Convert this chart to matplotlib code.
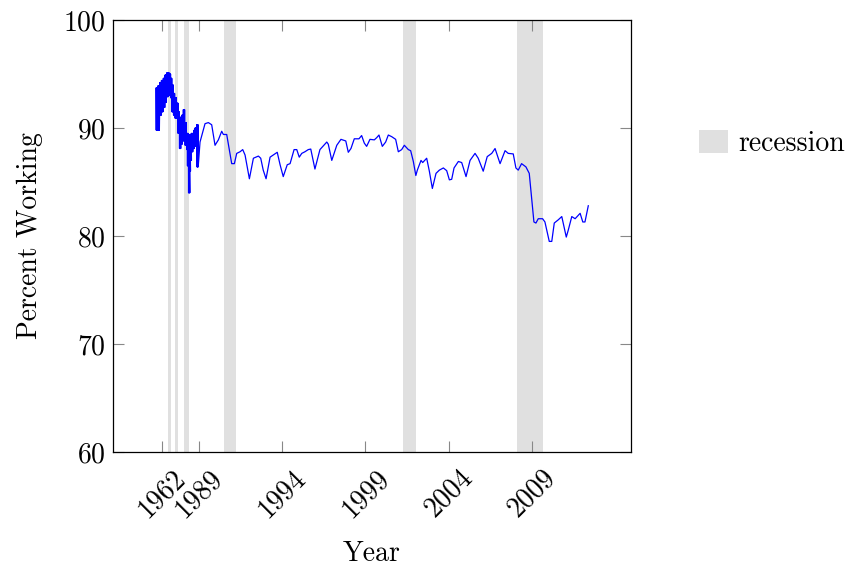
# Share of people working, with recession periods shaded
import numpy as np
import matplotlib
matplotlib.use("Agg")
import matplotlib.pyplot as plt

plt.rcParams["font.family"] = "serif"
plt.rcParams["font.serif"] = ["cmr10", "DejaVu Serif"]
plt.rcParams["axes.formatter.use_mathtext"] = True

# Early part of the series (compressed part of the axis): upper and lower swings
early_years = [1957.6, 1959.0, 1960.5, 1961.6, 1963.0, 1964.2, 1965.5, 1966.4, 1967.4, 1968.3,
               1969.2, 1970.4, 1971.6, 1972.9, 1973.8, 1974.8, 1975.8, 1976.8, 1977.8, 1979.0,
               1980.3, 1980.7, 1981.5, 1982.0, 1982.7, 1983.7, 1984.7, 1985.7, 1986.4, 1987.7]
early_high = [93.7, 93.9, 94.2, 94.4, 94.6, 94.9, 95.1, 95.1, 95.0, 94.6,
              94.0, 93.2, 92.8, 92.3, 91.5, 91.0, 90.6, 91.2, 91.7, 90.5,
              89.5, 88.9, 88.5, 89.0, 89.4, 89.5, 89.2, 89.8, 90.0, 90.3]
early_low = [89.8, 89.8, 91.2, 91.5, 91.9, 92.4, 92.9, 93.0, 93.2, 92.8,
             91.5, 91.2, 90.9, 91.0, 89.5, 88.1, 88.5, 89.1, 88.8, 88.4,
             88.0, 86.5, 84.0, 86.0, 87.0, 87.8, 88.1, 88.3, 88.6, 86.4]

# Later part of the series
late_years = [1989.09, 1989.39, 1989.59, 1989.79, 1989.99, 1990.19, 1990.39, 1990.49, 1990.69, 1990.99,
              1991.15, 1991.29, 1991.49, 1991.65, 1991.79, 1992.05, 1992.29, 1992.59, 1992.73, 1992.88,
              1993.05, 1993.29, 1993.72, 1993.89, 1994.08, 1994.32, 1994.49, 1994.73, 1994.89, 1995.04,
              1995.19, 1995.38, 1995.58, 1995.73, 1995.98, 1996.28, 1996.69, 1996.78, 1996.99, 1997.29,
              1997.54, 1997.83, 1997.98, 1998.14, 1998.34, 1998.62, 1998.78, 1998.94, 1999.08, 1999.28,
              1999.54, 1999.68, 1999.82, 2000.02, 2000.22, 2000.38, 2000.58, 2000.82, 2000.98, 2001.18,
              2001.34, 2001.58, 2001.72, 2001.88, 2002.03, 2002.12, 2002.34, 2002.44, 2002.68, 2002.84,
              2003.02, 2003.24, 2003.44, 2003.68, 2003.88, 2004.04, 2004.18, 2004.32, 2004.58, 2004.78,
              2005.04, 2005.28, 2005.58, 2005.77, 2006.07, 2006.31, 2006.58, 2006.78, 2007.08, 2007.38,
              2007.57, 2007.87, 2008.03, 2008.17, 2008.37, 2008.63, 2008.83, 2008.97, 2009.11, 2009.23,
              2009.37, 2009.63, 2009.77, 2010.03, 2010.18, 2010.33, 2010.57, 2010.78, 2011.05, 2011.17,
              2011.38, 2011.58, 2011.88, 2012.04, 2012.17, 2012.37]
late_values = [88.7, 90.4, 90.5, 90.3, 88.4, 88.9, 89.7, 89.4, 89.4, 86.7,
               86.7, 87.65, 87.8, 88.0, 87.5, 85.3, 87.2, 87.4, 87.2, 86.1,
               85.3, 87.3, 87.75, 86.6, 85.5, 86.6, 86.7, 88.0, 88.0, 87.3,
               87.65, 87.8, 88.0, 88.05, 86.2, 88.0, 88.7, 88.5, 87.0, 88.4,
               88.95, 88.8, 87.75, 88.1, 89.0, 89.0, 89.3, 88.6, 88.3, 88.95,
               88.9, 89.1, 89.35, 88.3, 88.7, 89.35, 89.2, 88.95, 87.8, 88.0,
               88.4, 88.0, 87.9, 86.9, 85.6, 86.1, 87.0, 86.8, 87.2, 86.0,
               84.4, 85.8, 86.1, 86.3, 86.05, 85.2, 85.25, 86.3, 86.9, 86.8,
               85.5, 87.0, 87.65, 87.2, 86.0, 87.35, 87.65, 88.1, 86.7, 87.9,
               87.65, 87.6, 86.3, 86.1, 86.7, 86.4, 85.8, 83.6, 81.3, 81.2,
               81.6, 81.6, 81.3, 79.5, 79.5, 81.2, 81.5, 81.8, 79.9, 80.55,
               81.8, 81.6, 82.1, 81.3, 81.3, 82.8]

# Recession periods (start, end)
rec_start = [1966.66, 1971.84, 1978.05, 1979.97, 1990.53, 2001.27, 2008.11]
rec_end = [1968.66, 1973.61, 1979.53, 1981.75, 1991.25, 2002.02, 2009.63]

x_ticks = [1962, 1989, 1994, 1999, 2004, 2009]
y_ticks = [60, 70, 80, 90, 100]

# The axis squeezes everything before 1989
SQUEEZE = 0.0811
def fwd(x):
    x = np.asarray(x, dtype=float)
    return np.where(x < 1989, 1989 - (1989 - x) * SQUEEZE, x)

def inv(u):
    u = np.asarray(u, dtype=float)
    return np.where(u < 1989, 1989 - (1989 - u) / SQUEEZE, u)

# Monthly swings of the early data: go back and forth between upper and lower values
xs, ys = [], []
for yr, hi, lo in zip(early_years, early_high, early_low):
    for k in range(4):
        xs += [yr + k * 0.3, yr + k * 0.3 + 0.15]
        ys += [hi, lo]
xs += late_years
ys += late_values

fig = plt.figure(figsize=(8.52, 5.68), dpi=100)
ax = fig.add_axes([0.1326, 0.2042, 0.6080, 0.7606])
ax.set_xscale("function", functions=(fwd, inv))

for i, (s, e) in enumerate(zip(rec_start, rec_end)):
    ax.axvspan(s, e, color="#e0e0e0", lw=0, zorder=1, label="recession" if i == 0 else None)

ax.plot(xs, ys, color="blue", lw=0.9, zorder=3)

ax.set_xlim(1925.76, 2014.93)
ax.set_ylim(60, 100)
ax.set_xticks(x_ticks)
ax.set_xticklabels([str(t) for t in x_ticks], rotation=45)
ax.set_yticks(y_ticks)
ax.minorticks_off()
ax.tick_params(direction="in", length=8, width=0.8, color="#888888",
               top=True, right=True, labelsize=20)
ax.tick_params(axis="x", pad=9)
ax.tick_params(axis="y", pad=5)
for sp in ax.spines.values():
    sp.set_linewidth(0.9)

ax.set_xlabel("Year", fontsize=20, labelpad=13)
ax.set_ylabel("Percent Working", fontsize=20, labelpad=15)

ax.legend(loc="center left", bbox_to_anchor=(1.131, 0.715), frameon=False,
          borderpad=0, borderaxespad=0, handlelength=1.05, handleheight=0.9,
          handletextpad=0.36, fontsize=20)

fig.savefig("out.png", dpi=100)
